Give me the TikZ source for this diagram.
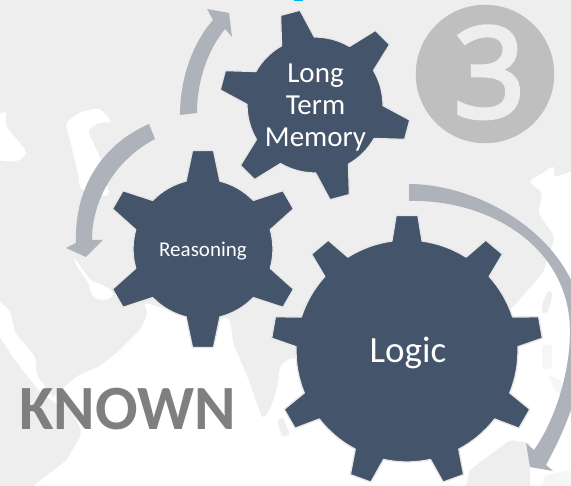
\documentclass[tikz,border=0pt]{standalone}
\usepackage{fontspec}
\setmainfont{Carlito}
\newfontfamily\badgefont[FakeBold=3.5]{Open Sans}
\definecolor{landgray}{HTML}{EEEEEE}
\definecolor{faintgray}{HTML}{F6F6F6}
\definecolor{gearblue}{HTML}{44546A}
\definecolor{gearedge}{HTML}{E7E6E6}
\definecolor{arrowgray}{HTML}{AEB2BA}
\definecolor{badgegray}{HTML}{BFBFBF}
\definecolor{knowngray}{HTML}{7F7F7F}
\definecolor{markblue}{HTML}{00B0F0}
\tikzset{
  sea/.style={fill=white,draw=none,rounded corners=5pt},
  land/.style={fill=landgray,draw=none,rounded corners=3pt},
  faintland/.style={fill=faintgray,draw=none,rounded corners=3pt},
  geartext/.style={text=white,inner sep=0pt,align=center},
  bendarrow/.style={fill=arrowgray,draw=none},
  gearshape/.style={fill=gearblue,draw=gearedge,line width=1.3pt,line join=round}
}
\newcommand{\gearat}[8]{%
  % cx cy root tip teeth firstangle basehalf tiphalf
  \begin{scope}[shift={(#1,#2)},x=1pt,y=1pt]
    \pgfmathsetmacro{\stepang}{360/#5}
    \draw[gearshape] ({#6-#7}:#3)
      \foreach \i in {1,...,#5}{
        \pgfextra{\pgfmathsetmacro{\aa}{#6+(\i-1)*\stepang}}
        -- ({\aa-#7}:#3) -- ({\aa-#8}:#4) -- ({\aa+#8}:#4) -- ({\aa+#7}:#3)
        arc[start angle={\aa+#7},end angle={\aa+\stepang-#7},radius=#3pt]
      } -- cycle;
  \end{scope}}
\begin{document}
\begin{tikzpicture}[x=1pt,y=-1pt]
\clip (0,0) rectangle (571,486);
\fill[landgray] (0,0) rectangle (571,486);
% sea
\fill[sea] (50,400) -- (77,376) -- (100,366) -- (120,350) -- (140,330) -- (148,313) -- (143,302)
  -- (200,320) -- (230,318) -- (233,343) -- (247,376) -- (263,420) -- (272,405) -- (278,385)
  -- (280,365) -- (293,357) -- (400,400) -- (513,307) -- (543,273) -- (555,237) -- (538,213)
  -- (543,193) -- (528,181) -- (545,172) -- (552,165) -- (556,170) -- (552,178) -- (590,165)
  -- (590,500) -- (33,500) -- (33,486) -- (67,460) -- (82,433) -- (70,405) -- cycle;
% red sea
\fill[sea] (-5,298) -- (10,310) -- (15,333) -- (35,356) -- (37,376) -- (52,396) -- (62,408)
  -- (40,392) -- (15,360) -- (-5,330) -- cycle;
% gulf
\fill[sea] (73,256) -- (90,280) -- (113,290) -- (113,298) -- (100,301) -- (92,296) -- (88,282) -- (76,265) -- cycle;
% caspian
\fill[sea] (65,123) -- (80,112) -- (100,108) -- (113,123) -- (100,122) -- (87,130) -- (100,157)
  -- (110,197) -- (80,190) -- (78,173) -- (70,140) -- cycle;
% black sea
\fill[sea] (-5,117) -- (7,110) -- (5,125) -- (28,153) -- (17,162) -- (-5,160) -- cycle;
% islands
\fill[land] (487,457) -- (510,440) -- (530,443) -- (530,490) -- (465,490) -- (470,470) -- cycle;
\fill[land] (277,420) -- (283,417) -- (290,435) -- (282,437) -- cycle;
\fill[land] (548,290) -- (553,293) -- (548,312) -- (542,314) -- (542,304) -- cycle;
\fill[faintland] (542,345) -- (552,345) -- (552,368) -- (543,370) -- cycle;
\fill[faintland] (548,375) -- (560,380) -- (566,395) -- (556,392) -- cycle;
\fill[faintland] (545,475) -- (571,470) -- (571,490) -- (540,490) -- cycle;
% mark
\fill[markblue] (294,-1) rectangle (303,1);
% badge
\node[circle,fill=badgegray,draw=none,minimum size=138.5pt,inner sep=0pt] (badge) at (485,74) {};
\node[anchor=base,text=landgray,inner sep=0pt,font=\badgefont\fontsize{125}{125}\selectfont] (three) at (489.5,117) {3};
% arrows
\fill[bendarrow] (409,184) .. controls (485,184) and (590,245) .. (584,345)
  .. controls (582,390) and (565,430) .. (546,465)
  -- (553,471) -- (530,467) -- (526,443) -- (534,450)
  .. controls (555,420) and (569,375) .. (570,335)
  .. controls (572,248) and (490,199) .. (409,201) -- cycle;
\fill[bendarrow] (149,124) .. controls (105,143) and (74,185) .. (76,243)
  -- (66,248) -- (86,257) -- (103,240) -- (92,240)
  .. controls (92,200) and (115,160) .. (155,139) -- cycle;
\fill[bendarrow] (180,115) .. controls (180,75) and (195,40) .. (213,20)
  -- (207,9) -- (229,13) -- (232,37) -- (225,29)
  .. controls (208,50) and (197,80) .. (197,113) -- cycle;
% gears
\gearat{315}{105}{68}{96}{6}{45}{14.5}{6}
\gearat{203}{249}{70}{99}{6}{90}{14}{6.1}
\gearat{407}{351}{111}{136}{9}{90}{7.8}{4.6}
% labels
\node[geartext,font=\fontsize{29}{32}\selectfont] (ltm) at (315.5,108) {Long\\Term\\Memory};
\node[geartext,anchor=base,font=\fontsize{21}{24}\selectfont] (reason) at (203,257) {Reasoning};
\node[geartext,anchor=base,font=\fontsize{37}{40}\selectfont] (logic) at (408,362.5) {Logic};
\node[anchor=base,inner sep=0pt,text=knowngray,font=\bfseries\fontsize{63}{63}\selectfont] (known) at (127.5,430) {KNOWN};
\end{tikzpicture}
\end{document}
